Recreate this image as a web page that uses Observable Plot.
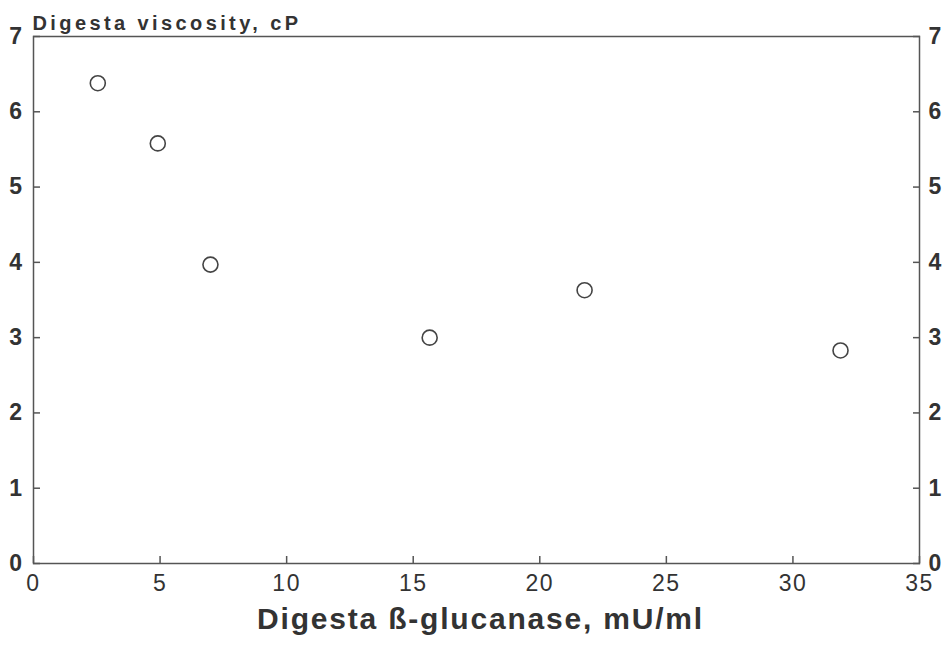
<!DOCTYPE html>
<html><head><meta charset="utf-8">
<script src="https://cdn.jsdelivr.net/npm/d3@7"></script>
<script src="https://cdn.jsdelivr.net/npm/@observablehq/plot@0.6"></script>
<style>
body{margin:0;background:#fff;}
svg{font-family:"Liberation Sans",Arial,sans-serif;}
</style></head>
<body><div id="chart"></div>
<script>
const glucanase = [2.54, 4.91, 6.99, 15.65, 21.77, 31.88];
const viscosity = [6.38, 5.58, 3.97, 3.0, 3.63, 2.83];
const xTicks = [0, 5, 10, 15, 20, 25, 30, 35];
const yTicks = [0, 1, 2, 3, 4, 5, 6, 7];
const xLabel = "Digesta ß-glucanase, mU/ml";
const yLabel = "Digesta viscosity, cP";

const data = glucanase.map((g, i) => ({g, v: viscosity[i]}));
const ink = "#333";

const chart = Plot.plot({
  width: 948, height: 648,
  marginTop: 36, marginBottom: 85, marginLeft: 33, marginRight: 29,
  x: {domain: [0, 35]},
  y: {domain: [0, 7]},
  style: {background: "#fff", color: ink},
  marks: [
    Plot.frame({stroke: "#555", strokeWidth: 1.5}),
    Plot.axisX(xTicks, {tickSize: -7, tickFormat: () => "", label: null, stroke: "#555", strokeWidth: 1.5}),
    Plot.axisY(yTicks, {anchor: "left", tickSize: -7, tickFormat: () => "", label: null, stroke: "#555", strokeWidth: 1.5}),
    Plot.axisY(yTicks, {anchor: "right", tickSize: -7, tickFormat: () => "", label: null, stroke: "#555", strokeWidth: 1.5}),
    Plot.text(xTicks, {x: d => d, text: d => String(d), frameAnchor: "bottom", dy: 27, fontSize: 23, fill: ink}),
    Plot.text(yTicks, {y: d => d, text: d => String(d), frameAnchor: "left", textAnchor: "end", dx: -10, fontSize: 23, fontWeight: "bold", fill: ink}),
    Plot.text(yTicks, {y: d => d, text: d => String(d), frameAnchor: "right", textAnchor: "start", dx: 9, fontSize: 23, fontWeight: "bold", fill: ink}),
    Plot.dot(data, {x: "g", y: "v", r: 7.5, stroke: "#444", strokeWidth: 1.6, fill: "none"}),
    Plot.text([yLabel], {text: d => d, frameAnchor: "top-left", textAnchor: "start", dx: -1, dy: -21, fontSize: 20, fontWeight: "bold", fill: ink}),
    Plot.text([xLabel], {text: d => d, frameAnchor: "bottom", dx: 4, dy: 65, fontSize: 30, fontWeight: "bold", fill: ink})
  ]
});
const texts = d3.select(chart).selectAll("text");
texts.filter(function() { return this.textContent === yLabel; }).attr("letter-spacing", "3.4px");
texts.filter(function() { return this.textContent === xLabel; }).attr("letter-spacing", "1.8px");
texts.filter(function() { return /^\d+$/.test(this.textContent); }).attr("letter-spacing", "1.5px");
document.getElementById("chart").append(chart);
</script>
</body></html>
